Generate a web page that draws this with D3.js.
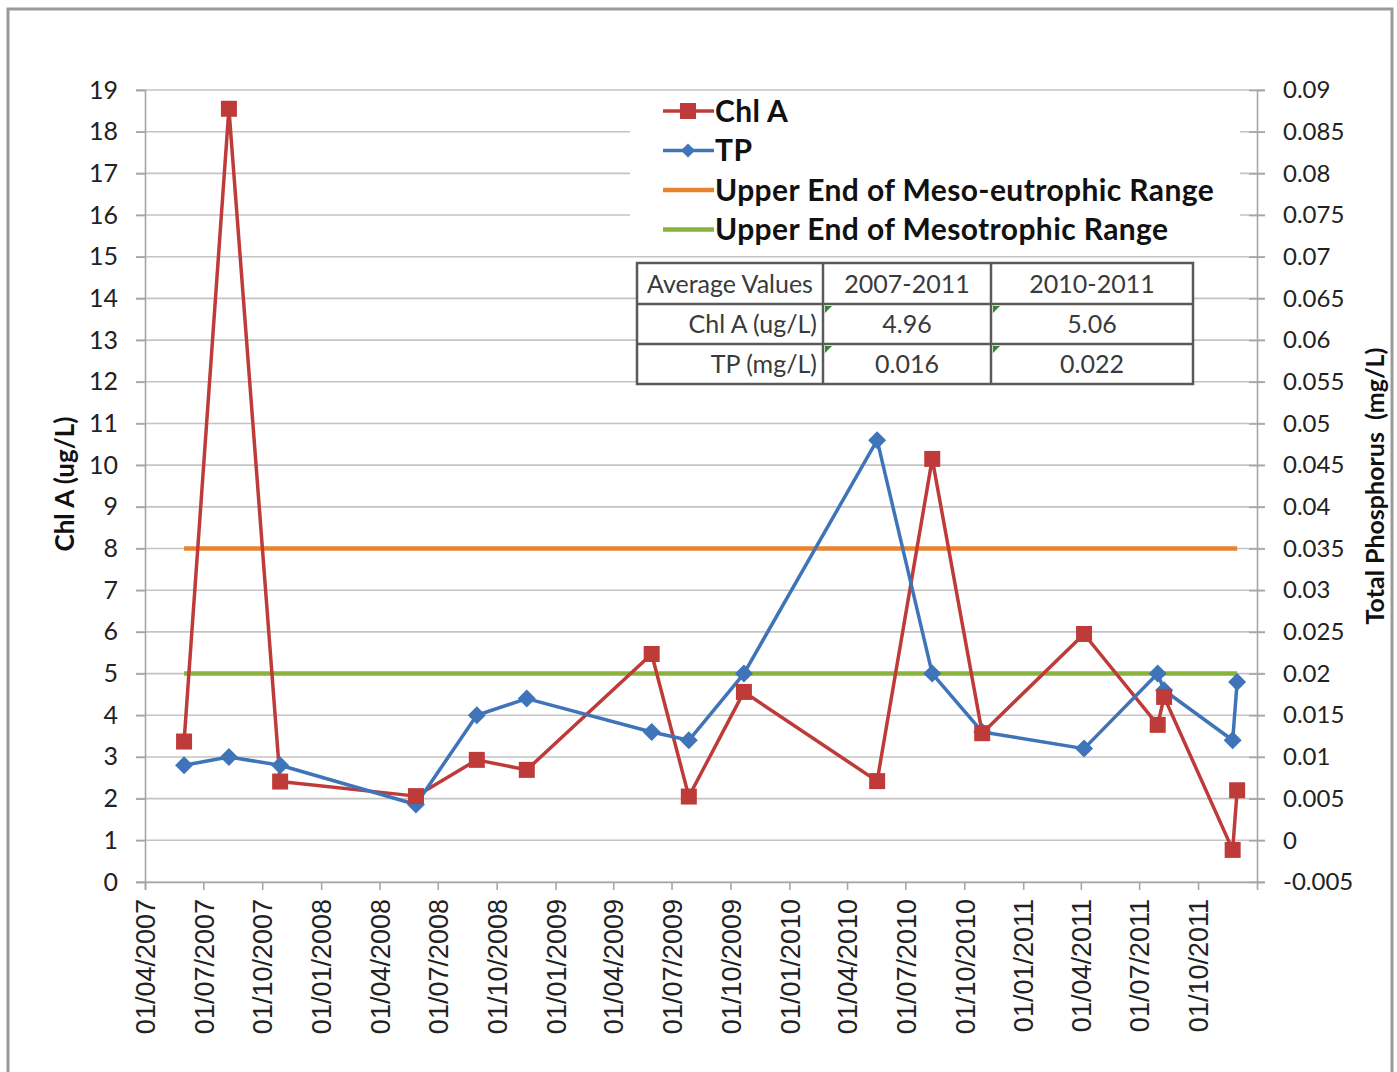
<!DOCTYPE html>
<html>
<head>
<meta charset="utf-8">
<script src="https://cdn.jsdelivr.net/npm/d3@7"></script>
<style>
  body { margin: 0; background: #fff; }
  svg { display: block; }
</style>
</head>
<body>
<div class="chart"></div>
<script>
// sample dates (shared by both series)
const sampleDates = [
  '2007-06-01', '2007-08-10', '2007-10-29', '2008-05-28', '2008-08-31',
  '2008-11-17', '2009-05-31', '2009-07-28', '2009-10-22', '2010-05-18',
  '2010-08-12', '2010-10-29', '2011-04-06', '2011-07-30', '2011-08-09',
  '2011-11-24', '2011-12-01'
];
// Chl A (ug/L), left axis
const chlA = [3.37, 18.55, 2.41, 2.06, 2.93, 2.69, 5.47, 2.05, 4.56, 2.42,
  10.15, 3.57, 5.95, 3.77, 4.44, 0.77, 2.2];
// Total phosphorus (mg/L), right axis
const tp = [0.009, 0.010, 0.009, 0.0043, 0.015, 0.017, 0.013, 0.012, 0.020, 0.048,
  0.020, 0.013, 0.011, 0.020, 0.018, 0.012, 0.019];
// reference lines (Chl A units)
const mesoEutrophic = 8;
const mesotrophic = 5;

const xTickLabels = ['01/04/2007', '01/07/2007', '01/10/2007', '01/01/2008', '01/04/2008',
  '01/07/2008', '01/10/2008', '01/01/2009', '01/04/2009', '01/07/2009', '01/10/2009',
  '01/01/2010', '01/04/2010', '01/07/2010', '01/10/2010', '01/01/2011', '01/04/2011',
  '01/07/2011', '01/10/2011'];
const xDomain = ['2007-04-01', '2012-01-01'];
const leftDomain = [0, 19];
const rightDomain = [-0.005, 0.09];

const legendLabels = ['Chl A', 'TP', 'Upper End of Meso-eutrophic Range', 'Upper End of Mesotrophic Range'];
const tableHeader = ['Average Values', '2007-2011', '2010-2011'];
const tableRows = [
  ['Chl A (ug/L)', '4.96', '5.06'],
  ['TP (mg/L)', '0.016', '0.022']
];

const W = 1397, H = 1072;
const margin = {top: 90, right: 140, bottom: 190, left: 145};
const graphWidth = W - margin.left - margin.right;
const graphHeight = H - margin.top - margin.bottom;

const RED = '#be3b39', BLUE = '#3f74b9', ORANGE = '#e8832f', GREEN = '#8ab33d';
const GRID = '#c4c4c4', AXIS = '#a6a6a6';
const uiFont = 'Lato, "Open Sans", sans-serif';

const parseDate = d3.timeParse('%Y-%m-%d');
const parseTick = d3.timeParse('%d/%m/%Y');

const chlData = sampleDates.map((d, i) => ({date: parseDate(d), value: chlA[i]}));
const tpData = sampleDates.map((d, i) => ({date: parseDate(d), value: tp[i]}));

const svg = d3.select('.chart').append('svg')
  .attr('width', W)
  .attr('height', H);

// outer frame
svg.append('rect')
  .attr('x', 8).attr('y', 9)
  .attr('width', 1384).attr('height', 1080)
  .attr('fill', '#fff')
  .attr('stroke', '#9a9a9a')
  .attr('stroke-width', 3);

const graph = svg.append('g')
  .attr('transform', `translate(${margin.left},${margin.top})`);

const x = d3.scaleTime().domain(xDomain.map(parseDate)).range([0, graphWidth]);
const y = d3.scaleLinear().domain(leftDomain).range([graphHeight, 0]);
const y2 = d3.scaleLinear().domain(rightDomain).range([graphHeight, 0]);

// gridlines
graph.append('g')
  .selectAll('line')
  .data(d3.range(leftDomain[0], leftDomain[1] + 1))
  .enter().append('line')
  .attr('x1', -9).attr('x2', graphWidth + 8)
  .attr('y1', d => y(d)).attr('y2', d => y(d))
  .attr('stroke', GRID)
  .attr('stroke-width', 1.6);

// left axis
const yAxisgroup = graph.append('g').attr('class', 'y-axis');
yAxisgroup.call(d3.axisLeft(y).ticks(19).tickSize(9).tickPadding(18));
yAxisgroup.select('.domain').attr('stroke', AXIS).attr('stroke-width', 1.6);
yAxisgroup.selectAll('line').attr('stroke', AXIS).attr('stroke-width', 1.6);
yAxisgroup.selectAll('text')
  .attr('font-family', uiFont)
  .attr('font-size', 25)
  .attr('fill', '#222');

// right axis
const fmtRight = d => String(+d.toFixed(3));
const y2Axisgroup = graph.append('g')
  .attr('class', 'y2-axis')
  .attr('transform', `translate(${graphWidth},0)`);
y2Axisgroup.call(d3.axisRight(y2)
  .tickValues(d3.range(0, 20).map(i => +(rightDomain[0] + i * 0.005).toFixed(3)))
  .tickSize(8).tickPadding(18).tickFormat(fmtRight));
y2Axisgroup.select('.domain').attr('stroke', AXIS).attr('stroke-width', 1.6);
y2Axisgroup.selectAll('.tick line').attr('x1', -8).attr('stroke', AXIS).attr('stroke-width', 1.6);
y2Axisgroup.selectAll('text')
  .attr('font-family', uiFont)
  .attr('font-size', 24)
  .attr('fill', '#222');

// x axis
const xAxisgroup = graph.append('g')
  .attr('class', 'x-axis')
  .attr('transform', `translate(0,${graphHeight})`);
xAxisgroup.call(d3.axisBottom(x)
  .tickValues(xTickLabels.map(parseTick))
  .tickSize(8)
  .tickFormat(d3.timeFormat('%d/%m/%Y')));
xAxisgroup.select('.domain').attr('stroke', AXIS).attr('stroke-width', 1.6);
xAxisgroup.selectAll('line').attr('stroke', AXIS).attr('stroke-width', 1.6);
xAxisgroup.selectAll('text')
  .attr('font-family', '"Liberation Sans", Arial, sans-serif')
  .attr('font-size', 27)
  .attr('fill', '#222')
  .attr('transform', 'rotate(-90)')
  .attr('text-anchor', 'end')
  .attr('dx', -17)
  .attr('dy', '0.36em')
  .attr('x', 0).attr('y', 0);

// axis titles
svg.append('text')
  .attr('transform', `translate(74,${margin.top + graphHeight / 2 - 2}) rotate(-90)`)
  .attr('text-anchor', 'middle')
  .attr('font-family', uiFont)
  .attr('font-weight', 'bold')
  .attr('font-size', 26)
  .attr('fill', '#111')
  .text('Chl A (ug/L)');
svg.append('text')
  .attr('transform', `translate(1384,${margin.top + graphHeight / 2}) rotate(-90)`)
  .attr('text-anchor', 'middle')
  .attr('font-family', uiFont)
  .attr('font-weight', 'bold')
  .attr('font-size', 25)
  .attr('fill', '#111')
  .attr('xml:space', 'preserve')
  .text('Total Phosphorus  (mg/L)');

// reference lines
const first = chlData[0].date, last = chlData[chlData.length - 1].date;
const refLine = d3.line().x(d => x(d[0])).y(d => y(d[1]));
graph.append('path')
  .datum([[first, mesoEutrophic], [last, mesoEutrophic]])
  .attr('fill', 'none').attr('stroke', ORANGE).attr('stroke-width', 4.5)
  .attr('d', refLine);
graph.append('path')
  .datum([[first, mesotrophic], [last, mesotrophic]])
  .attr('fill', 'none').attr('stroke', GREEN).attr('stroke-width', 4.5)
  .attr('d', refLine);

// Chl A line
const chlLine = d3.line().x(d => x(d.date)).y(d => y(d.value));
graph.append('path')
  .datum(chlData)
  .attr('fill', 'none').attr('stroke', RED).attr('stroke-width', 3.5)
  .attr('stroke-linejoin', 'round')
  .attr('d', chlLine);

// TP line + diamonds
const tpLine = d3.line().x(d => x(d.date)).y(d => y2(d.value));
graph.append('path')
  .datum(tpData)
  .attr('fill', 'none').attr('stroke', BLUE).attr('stroke-width', 3.5)
  .attr('stroke-linejoin', 'round')
  .attr('d', tpLine);

const diamond = 'M0,-9L9,0L0,9L-9,0Z';
graph.selectAll('path.tp-marker')
  .data(tpData)
  .enter().append('path')
  .attr('class', 'tp-marker')
  .attr('d', diamond)
  .attr('transform', d => `translate(${x(d.date)},${y2(d.value)})`)
  .attr('fill', BLUE);

// Chl A squares
graph.selectAll('rect.chl-marker')
  .data(chlData)
  .enter().append('rect')
  .attr('class', 'chl-marker')
  .attr('x', d => x(d.date) - 8)
  .attr('y', d => y(d.value) - 8)
  .attr('width', 16).attr('height', 16)
  .attr('fill', RED);

// legend
const legend = svg.append('g').attr('transform', 'translate(630,97)');
legend.append('rect')
  .attr('width', 610).attr('height', 152)
  .attr('fill', '#fff');
const legendColors = [RED, BLUE, ORANGE, GREEN];
legendLabels.forEach((label, i) => {
  const row = legend.append('g').attr('transform', `translate(0,${14 + i * 39.5})`);
  row.append('line')
    .attr('x1', 33).attr('x2', 84)
    .attr('stroke', legendColors[i])
    .attr('stroke-width', i < 2 ? 3.5 : 4.5);
  if (i === 0) {
    row.append('rect').attr('x', 50).attr('y', -8).attr('width', 16).attr('height', 16).attr('fill', RED);
  } else if (i === 1) {
    row.append('path').attr('d', 'M0,-7L7,0L0,7L-7,0Z').attr('transform', 'translate(58,0)').attr('fill', BLUE);
  }
  row.append('text')
    .attr('x', 85)
    .attr('dy', '0.36em')
    .attr('font-family', uiFont)
    .attr('font-weight', 'bold')
    .attr('font-size', 30)
    .attr('letter-spacing', 0.4)
    .attr('fill', '#111')
    .text(label);
});

// table of averages
const colEdges = [637, 823, 991, 1193];
const rowEdges = [263, 304, 344, 384];
const table = svg.append('g');
table.append('rect')
  .attr('x', colEdges[0]).attr('y', rowEdges[0])
  .attr('width', colEdges[3] - colEdges[0]).attr('height', rowEdges[3] - rowEdges[0])
  .attr('fill', '#fff').attr('stroke', '#5a5a5a').attr('stroke-width', 2.5);
rowEdges.slice(1, 3).forEach(ry => {
  table.append('line').attr('x1', colEdges[0]).attr('x2', colEdges[3])
    .attr('y1', ry).attr('y2', ry).attr('stroke', '#5a5a5a').attr('stroke-width', 2.5);
});
colEdges.slice(1, 3).forEach(cx => {
  table.append('line').attr('x1', cx).attr('x2', cx)
    .attr('y1', rowEdges[0]).attr('y2', rowEdges[3]).attr('stroke', '#5a5a5a').attr('stroke-width', 2.5);
});
const cellText = (txt, r, c) => {
  const midY = (rowEdges[r] + rowEdges[r + 1]) / 2;
  let tx, anchor;
  if (c === 0 && r > 0) { tx = colEdges[1] - 6; anchor = 'end'; }
  else { tx = (colEdges[c] + colEdges[c + 1]) / 2; anchor = 'middle'; }
  table.append('text')
    .attr('x', tx).attr('y', midY)
    .attr('dy', '0.36em')
    .attr('text-anchor', anchor)
    .attr('font-family', uiFont)
    .attr('font-size', 25)
    .attr('fill', '#3a3a3a')
    .text(txt);
};
tableHeader.forEach((t, c) => cellText(t, 0, c));
tableRows.forEach((row, r) => {
  row.forEach((t, c) => cellText(t, r + 1, c));
  // green error flags in numeric cells
  [1, 2].forEach(c => {
    const cx = colEdges[c] + 2, cy = rowEdges[r + 1] + 2;
    table.append('path')
      .attr('d', `M${cx},${cy}L${cx + 7},${cy}L${cx},${cy + 7}Z`)
      .attr('fill', '#2f8a2f');
  });
});
</script>
</body>
</html>
